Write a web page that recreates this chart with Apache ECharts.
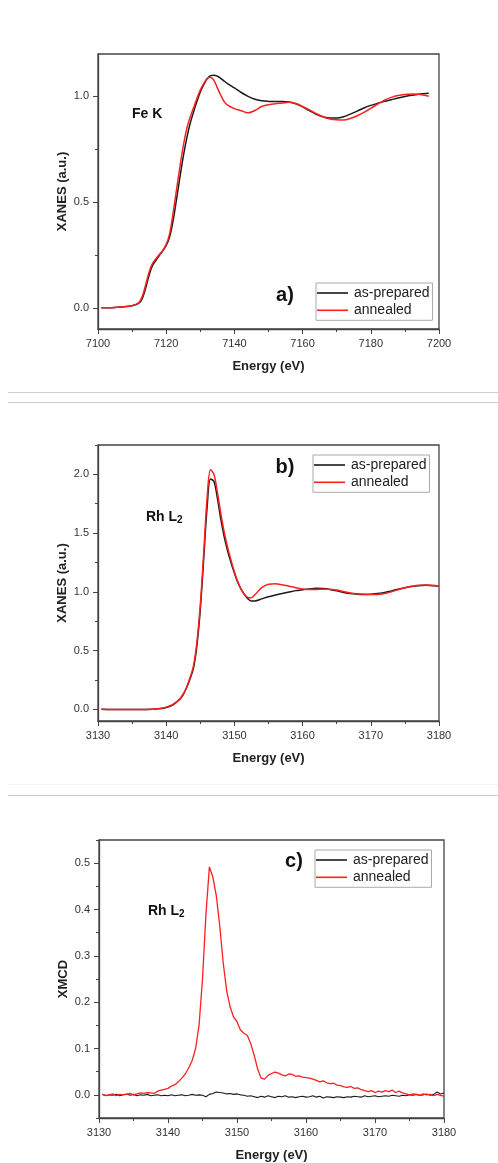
<!DOCTYPE html>
<html>
<head>
<meta charset="utf-8">
<script src="https://cdn.jsdelivr.net/npm/echarts@6/dist/echarts.min.js"></script>
<style>
html,body{margin:0;padding:0;background:#fff;}
#chart{width:498px;height:1163px;}
</style>
</head>
<body>
<div id="chart"></div>
<script>
// ---------- Panel a) Fe K XANES ----------
var feEnergy = [7101,7104,7107,7110,7112,7113,7114,7115,7116,7117,7118,7119,7120,7121,7122,7123,7124,7125,7126,7127,7128,7129,7130,7131,7132,7133,7134,7135,7136,7137,7138,7140,7142,7144,7146,7148,7150,7152,7154,7156,7158,7160,7162,7164,7166,7168,7170,7172,7174,7176,7178,7180,7182,7184,7186,7188,7190,7192,7194,7197];
var feAsPrepared = [0.000,0.001,0.004,0.010,0.022,0.045,0.095,0.155,0.200,0.225,0.248,0.270,0.295,0.335,0.410,0.510,0.615,0.715,0.800,0.870,0.925,0.975,1.020,1.055,1.083,1.098,1.100,1.095,1.085,1.072,1.060,1.040,1.018,1.000,0.986,0.979,0.976,0.975,0.975,0.973,0.965,0.950,0.932,0.915,0.903,0.897,0.897,0.903,0.916,0.930,0.945,0.957,0.967,0.976,0.984,0.992,0.999,1.005,1.010,1.015];
var feAnnealed = [0.000,0.001,0.004,0.010,0.025,0.055,0.110,0.170,0.210,0.232,0.252,0.272,0.300,0.350,0.445,0.555,0.665,0.765,0.845,0.900,0.945,0.990,1.030,1.060,1.083,1.090,1.075,1.040,1.005,0.975,0.958,0.942,0.932,0.922,0.933,0.952,0.960,0.965,0.968,0.972,0.966,0.952,0.936,0.918,0.903,0.893,0.889,0.888,0.895,0.908,0.924,0.943,0.963,0.982,0.995,1.004,1.009,1.011,1.010,1.000];

// ---------- Panel b) Rh L2 XANES ----------
var rhEnergy = [3130.5,3132,3134,3136,3138,3139,3140,3141,3142,3142.5,3143,3143.5,3144,3144.5,3145,3145.5,3146,3146.5,3147,3147.5,3148,3148.5,3149,3149.5,3150,3150.5,3151,3151.5,3152,3152.5,3153,3154,3155,3156,3157,3158,3159,3160,3161,3162,3163,3164,3165,3166,3167,3168,3169,3170,3171,3172,3173,3174,3175,3176,3177,3178,3179,3180];
var rhAsPrepared = [0.000,-0.002,-0.003,-0.003,-0.001,0.004,0.015,0.038,0.085,0.125,0.185,0.260,0.350,0.540,0.850,1.280,1.720,1.960,1.940,1.800,1.620,1.470,1.350,1.250,1.160,1.080,1.020,0.975,0.940,0.922,0.922,0.940,0.958,0.972,0.985,0.998,1.010,1.018,1.025,1.030,1.028,1.020,1.008,0.995,0.985,0.980,0.978,0.980,0.985,0.995,1.008,1.022,1.035,1.045,1.052,1.055,1.052,1.048];
var rhAnnealed = [0.000,-0.002,-0.003,-0.003,0.000,0.006,0.018,0.042,0.090,0.130,0.190,0.270,0.370,0.570,0.890,1.330,1.800,2.040,2.000,1.850,1.670,1.510,1.380,1.270,1.170,1.085,1.020,0.975,0.952,0.950,0.975,1.035,1.065,1.068,1.060,1.048,1.035,1.025,1.020,1.020,1.022,1.022,1.015,1.002,0.990,0.983,0.980,0.978,0.978,0.985,1.000,1.018,1.035,1.048,1.055,1.058,1.055,1.048];

// ---------- Panel c) Rh L2 XMCD ----------
var xmcdEnergy = [3130.5,3131,3131.5,3132,3132.5,3133,3133.5,3134,3134.5,3135,3135.5,3136,3136.5,3137,3137.5,3138,3138.5,3139,3139.5,3140,3140.5,3141,3141.5,3142,3142.5,3143,3143.5,3144,3144.5,3145,3145.5,3146,3146.5,3147,3147.5,3148,3148.5,3149,3149.5,3150,3150.5,3151,3151.5,3152,3152.5,3153,3153.5,3154,3154.5,3155,3155.5,3156,3156.5,3157,3157.5,3158,3158.5,3159,3159.5,3160,3160.5,3161,3161.5,3162,3162.5,3163,3163.5,3164,3164.5,3165,3165.5,3166,3166.5,3167,3167.5,3168,3168.5,3169,3169.5,3170,3170.5,3171,3171.5,3172,3172.5,3173,3173.5,3174,3174.5,3175,3175.5,3176,3176.5,3177,3177.5,3178,3178.5,3179,3179.5,3180];
var xmcdAsPrepared = [0.001,-0.002,0.000,-0.001,0.001,-0.002,0.000,0.002,-0.001,0.001,-0.002,0.000,-0.001,0.001,-0.002,-0.001,0.000,-0.002,-0.001,-0.002,0.000,-0.002,-0.001,0.000,-0.002,-0.001,0.001,-0.001,0.000,-0.001,-0.004,0.001,0.003,0.006,0.005,0.004,0.002,0.003,0.001,0.002,0.000,-0.001,-0.003,-0.002,-0.004,-0.006,-0.003,-0.005,-0.002,-0.004,-0.006,-0.003,-0.004,-0.002,-0.005,-0.004,-0.006,-0.004,-0.003,-0.005,-0.004,-0.002,-0.005,-0.003,-0.007,-0.004,-0.005,-0.006,-0.004,-0.005,-0.006,-0.004,-0.005,-0.003,-0.004,-0.005,-0.002,-0.004,-0.003,-0.002,-0.004,-0.003,-0.002,-0.003,-0.001,-0.002,-0.003,-0.001,-0.002,0.000,-0.001,0.001,-0.001,0.000,0.002,-0.001,0.001,0.006,0.002,0.004];
var xmcdAnnealed = [0.001,-0.001,0.000,0.002,-0.002,0.001,0.000,0.001,0.003,0.000,0.002,0.004,0.003,0.005,0.004,0.003,0.008,0.010,0.012,0.014,0.019,0.022,0.028,0.036,0.045,0.058,0.074,0.100,0.150,0.250,0.390,0.492,0.470,0.430,0.365,0.285,0.225,0.190,0.168,0.158,0.140,0.133,0.128,0.110,0.085,0.055,0.036,0.034,0.042,0.046,0.049,0.047,0.043,0.041,0.045,0.044,0.040,0.041,0.038,0.037,0.036,0.034,0.031,0.028,0.030,0.026,0.024,0.025,0.021,0.020,0.017,0.016,0.018,0.014,0.015,0.011,0.009,0.007,0.009,0.005,0.008,0.006,0.009,0.007,0.010,0.005,0.008,0.004,0.002,0.000,0.002,0.001,-0.001,0.002,0.000,0.001,-0.002,0.001,-0.001,-0.003];

// ---------- Tick values ----------
var feYMajor = [0,0.5,1.0];
var feYMinor = [0.25,0.75];
var rhYMajor = [0,0.5,1.0,1.5,2.0];
var rhYMinor = [0.25,0.75,1.25,1.75,2.25];
var xmcdYMajor = [0,0.1,0.2,0.3,0.4,0.5];
var xmcdYMinor = [-0.05,0.05,0.15,0.25,0.35,0.45,0.55];
var seriesNames = ['as-prepared','annealed'];

function pairs(xs, ys){ return xs.map(function(x,i){ return [x, ys[i]]; }); }

var FONT = "'Liberation Sans', Arial, sans-serif";
var AXC = '#444';
var BLACK = '#1a1a1a', RED = '#ff1f1f';

var grids = [
  {left:98, top:54, width:341, height:275},
  {left:98, top:445, width:341, height:276},
  {left:99, top:840, width:345, height:278}
];

function xAxisCfg(gi, min, max, interval){
  return {
    type:'value', gridIndex:gi, min:min, max:max, interval:interval,
    name:'Energy (eV)', nameLocation:'middle', nameGap:31,
    nameTextStyle:{fontFamily:FONT, fontSize:13, fontWeight:'bold', color:'#222'},
    axisLine:{show:true, onZero:false, lineStyle:{color:AXC, width:1.3}},
    axisTick:{show:true, length:5, lineStyle:{color:AXC}},
    minorTick:{show:true, splitNumber:2, length:3, lineStyle:{color:AXC}},
    axisLabel:{fontFamily:FONT, fontSize:11, color:'#333', margin:9, showMinLabel:true, showMaxLabel:true,
      formatter:function(v){ return String(v); }},
    splitLine:{show:false}, minorSplitLine:{show:false}
  };
}
function yAxisMain(gi, min, max, major, name){
  return {
    type:'value', gridIndex:gi, min:min, max:max, position:'left', offset:0,
    name:name, nameLocation:'middle', nameGap:29, nameMoveOverlap:false,
    nameTextStyle:{fontFamily:FONT, fontSize:13, fontWeight:'bold', color:'#222'},
    axisLine:{show:true, onZero:false, lineStyle:{color:AXC, width:1.3}},
    axisTick:{show:true, length:5, customValues:major, lineStyle:{color:AXC}},
    axisLabel:{fontFamily:FONT, fontSize:11, color:'#333', margin:9, customValues:major,
      formatter:function(v){ return v.toFixed(1); }},
    splitLine:{show:false}
  };
}
function yAxisMinor(gi, min, max, minor){
  return {
    type:'value', gridIndex:gi, min:min, max:max, position:'left', offset:0,
    axisLine:{show:false},
    axisTick:{show:true, length:3, customValues:minor, lineStyle:{color:AXC}},
    axisLabel:{show:false},
    splitLine:{show:false}
  };
}

function lineSeries(name, color, xi, yi, data, smooth, w){
  return {
    type:'line', name:name, xAxisIndex:xi, yAxisIndex:yi, data:data,
    showSymbol:false, symbol:'none', smooth:smooth, color:color,
    lineStyle:{color:color, width:w}, animation:false, z:3
  };
}

function legendCfg(left, top){
  return {
    data:seriesNames, orient:'vertical', left:left, top:top,
    icon:'rect', itemWidth:31, itemHeight:1.6, itemGap:1.3, padding:[2,3,2,1],
    borderColor:'#aaa', borderWidth:1, backgroundColor:'#fff',
    textStyle:{fontFamily:FONT, fontSize:14, color:'#222', lineHeight:16, padding:[0,0,0,1]},
    selectedMode:false
  };
}

var labelFont = 'bold 20px ' + FONT;
var edgeFont = 'bold 14px ' + FONT;
function txt(x, y, text, font, align, rich){
  var st = {x:x, y:y, text:text, font:font, fill:'#111', align:align, verticalAlign:'middle'};
  if (rich) st.rich = rich;
  return {type:'text', style:st, z:10};
}
var rhRich = {
  m:{font:edgeFont, fill:'#111'},
  s:{font:'bold 10px ' + FONT, fill:'#111', verticalAlign:'bottom', padding:[6,0,0,0]}
};
function sepLine(y, color){
  return {type:'line', shape:{x1:8, y1:y, x2:498, y2:y}, style:{stroke:color, lineWidth:1}, z:1};
}

var option = {
  animation:false,
  backgroundColor:'#fff',
  grid: grids.map(function(g){ return Object.assign({show:true, borderColor:AXC, borderWidth:1.3, containLabel:false}, g); }),
  xAxis:[
    xAxisCfg(0, 7100, 7200, 20),
    xAxisCfg(1, 3130, 3180, 10),
    xAxisCfg(2, 3130, 3180, 10)
  ],
  yAxis:[
    yAxisMain(0, -0.1, 1.2, feYMajor, 'XANES (a.u.)'),
    yAxisMinor(0, -0.1, 1.2, feYMinor),
    yAxisMain(1, -0.1, 2.25, rhYMajor, 'XANES (a.u.)'),
    yAxisMinor(1, -0.1, 2.25, rhYMinor),
    yAxisMain(2, -0.05, 0.55, xmcdYMajor, 'XMCD'),
    yAxisMinor(2, -0.05, 0.55, xmcdYMinor)
  ],
  legend:[
    legendCfg(316, 283),
    legendCfg(313, 455),
    legendCfg(315, 850)
  ],
  series:[
    lineSeries(seriesNames[0], BLACK, 0, 0, pairs(feEnergy, feAsPrepared), 0.35, 1.5),
    lineSeries(seriesNames[1], RED, 0, 0, pairs(feEnergy, feAnnealed), 0.35, 1.5),
    lineSeries(seriesNames[0], BLACK, 1, 2, pairs(rhEnergy, rhAsPrepared), 0.35, 1.5),
    lineSeries(seriesNames[1], RED, 1, 2, pairs(rhEnergy, rhAnnealed), 0.35, 1.5),
    lineSeries(seriesNames[0], BLACK, 2, 4, pairs(xmcdEnergy, xmcdAsPrepared), false, 1.1),
    lineSeries(seriesNames[1], RED, 2, 4, pairs(xmcdEnergy, xmcdAnnealed), false, 1.3)
  ],
  graphic:[
    sepLine(392.5, '#cccccc'),
    sepLine(402.5, '#cccccc'),
    sepLine(784.5, '#f2f2f2'),
    sepLine(795.5, '#cccccc'),
    txt(285, 295, 'a)', labelFont, 'center'),
    txt(132, 114, 'Fe K', edgeFont, 'left'),
    txt(285, 467, 'b)', labelFont, 'center'),
    txt(146, 517, '{m|Rh L}{s|2}', edgeFont, 'left', rhRich),
    txt(294, 861, 'c)', labelFont, 'center'),
    txt(148, 911, '{m|Rh L}{s|2}', edgeFont, 'left', rhRich)
  ]
};

var chart = echarts.init(document.getElementById('chart'), null, {renderer:'canvas'});
chart.setOption(option);
</script>
</body>
</html>
